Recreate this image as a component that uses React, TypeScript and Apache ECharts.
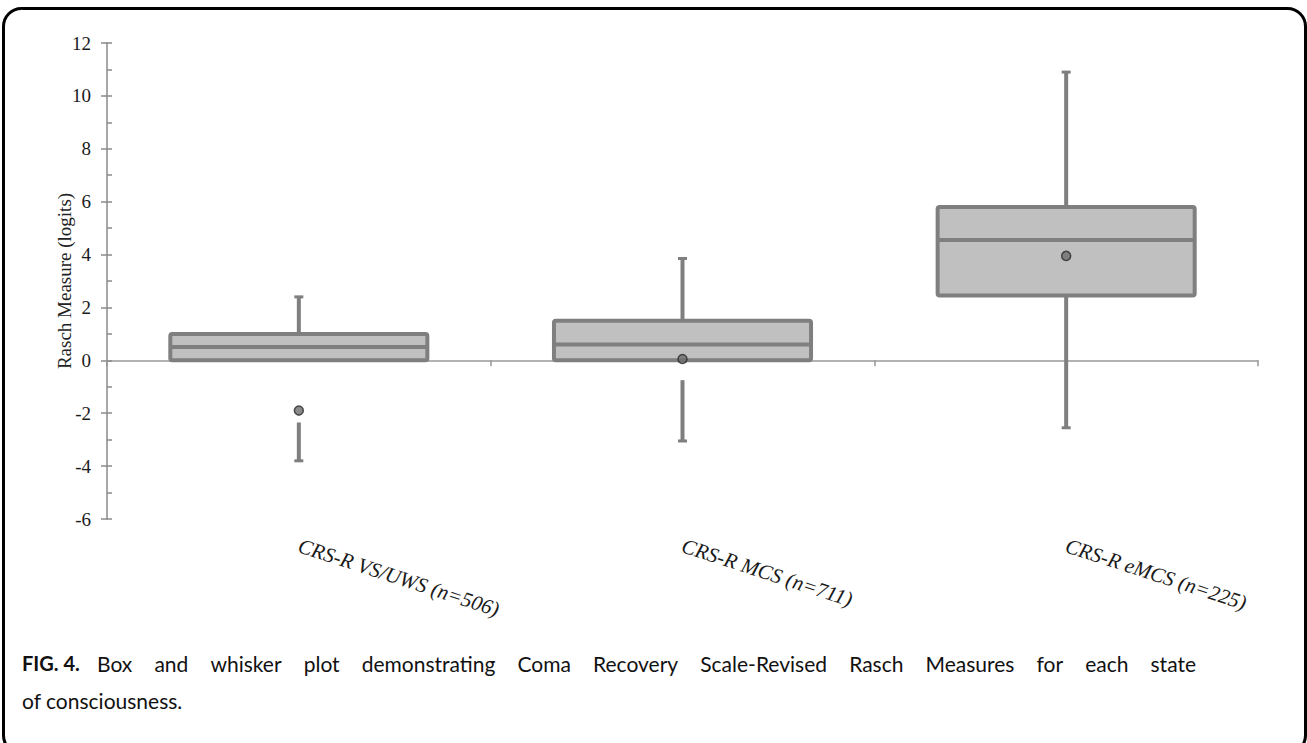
import React, { useEffect, useRef } from "react";
import * as echarts from "echarts";

const categories = ["CRS-R VS/UWS (n=506)", "CRS-R MCS (n=711)", "CRS-R eMCS (n=225)"];
const q1Values = [0, 0, 2.45];
const medianValues = [0.5, 0.6, 4.55];
const q3Values = [1.0, 1.5, 5.8];
const maxValues = [2.4, 3.85, 10.9];
const lowerWhiskerStart = [-2.35, -0.75, 2.45];
const minValues = [-3.8, -3.05, -2.55];
const meanValues = [-1.9, 0.05, 3.95];
const yTicks = { min: -6, max: 12, interval: 2 };

const captionLabel = "FIG. 4.";
const captionLine1 = "Box and whisker plot demonstrating Coma Recovery Scale-Revised Rasch Measures for each state";
const captionLine2 = "of consciousness.";

const GRID = { left: 107, right: 49, top: 43, bottom: 224 };
const GRID_W = 1307 - GRID.left - GRID.right;
const LINE_GRAY = "#7f7f7f";
const CAPTION_FAMILY = "Lato, 'Open Sans', sans-serif";
const CAPTION_FONT = "21px " + CAPTION_FAMILY;

function justifiedWords(text: string, x0: number, x1: number, y: number) {
  const words = text.split(" ");
  const widths = words.map((w) => {
    const t = new (echarts.graphic as any).Text({ style: { text: w, font: CAPTION_FONT } });
    return t.getBoundingRect().width;
  });
  const total = widths.reduce((a: number, b: number) => a + b, 0);
  const gap = (x1 - x0 - total) / Math.max(1, words.length - 1);
  let x = x0;
  return words.map((w, i) => {
    const el = {
      type: "text",
      x,
      y,
      style: { text: w, font: CAPTION_FONT, fill: "#111", textVerticalAlign: "middle" },
    };
    x += widths[i] + gap;
    return el;
  });
}

export default function App() {
  const ref = useRef<HTMLDivElement>(null);
  useEffect(() => {
    if (!ref.current) return;
    const chart = echarts.init(ref.current, undefined, { renderer: "svg" });
    const boxData = categories.map((_, i) => [
      i,
      q1Values[i],
      medianValues[i],
      q3Values[i],
      maxValues[i],
      lowerWhiskerStart[i],
      minValues[i],
    ]);
    const renderItem = (params: any, api: any) => {
      const idx = api.value(0);
      const cx = api.coord([idx, 0])[0];
      const y = (v: number) => api.coord([idx, v])[1];
      const bw = api.size([1, 0])[0] * 0.67;
      const q1 = api.value(1), med = api.value(2), q3 = api.value(3);
      const mx = api.value(4), ls = api.value(5), mn = api.value(6);
      const lineStyle = { stroke: LINE_GRAY, lineWidth: 4 };
      const capStyle = { stroke: LINE_GRAY, lineWidth: 3 };
      const capW = 9;
      return {
        type: "group",
        children: [
          { type: "line", shape: { x1: cx, y1: y(q3), x2: cx, y2: y(mx) }, style: lineStyle },
          { type: "line", shape: { x1: cx - capW / 2, y1: y(mx), x2: cx + capW / 2, y2: y(mx) }, style: capStyle },
          { type: "line", shape: { x1: cx, y1: y(ls), x2: cx, y2: y(mn) }, style: lineStyle },
          { type: "line", shape: { x1: cx - capW / 2, y1: y(mn), x2: cx + capW / 2, y2: y(mn) }, style: capStyle },
          {
            type: "rect",
            shape: { x: cx - bw / 2, y: y(q3), width: bw, height: y(q1) - y(q3), r: 2 },
            style: { fill: "#c0c0c0", stroke: LINE_GRAY, lineWidth: 4 },
          },
          { type: "line", shape: { x1: cx - bw / 2, y1: y(med), x2: cx + bw / 2, y2: y(med) }, style: lineStyle },
        ],
      };
    };
    const serif = "'Liberation Serif', 'Times New Roman', serif";
    const option: any = {
      animation: false,
      backgroundColor: "#ffffff",
      grid: { left: GRID.left, right: GRID.right, top: GRID.top, bottom: GRID.bottom, containLabel: false },
      xAxis: [
        {
          type: "category",
          data: categories,
          position: "bottom",
          axisLine: { show: false, onZero: false },
          axisTick: { show: false },
          axisLabel: {
            rotate: -18,
            margin: 26,
            fontFamily: serif,
            fontStyle: "italic",
            fontSize: 21,
            color: "#1a1a1a",
          },
        },
        {
          type: "category",
          data: categories,
          position: "top",
          axisLine: { show: true, onZero: true, lineStyle: { color: "#999999", width: 1.5 } },
          axisTick: { show: true, inside: true, length: 6, lineStyle: { color: "#999999", width: 1.5 } },
          axisLabel: { show: false },
        },
      ],
      yAxis: [
        {
          type: "value",
          min: yTicks.min,
          max: yTicks.max,
          interval: yTicks.interval,
          position: "left",
          name: "Rasch Measure (logits)",
          nameLocation: "middle",
          nameGap: 33,
          nameMoveOverlap: false,
          nameRotate: 90,
          nameTextStyle: { fontFamily: serif, fontSize: 19, color: "#222" },
          axisLine: { show: true, onZero: false, lineStyle: { color: "#8a8a8a", width: 1.5 } },
          axisTick: { show: true, length: 6, lineStyle: { color: "#8a8a8a", width: 1.5 } },
          axisLabel: { fontFamily: serif, fontSize: 19, color: "#1a1a1a", margin: 16 },
          splitLine: { show: false },
        },
        {
          type: "value",
          min: yTicks.min,
          max: yTicks.max,
          interval: yTicks.interval,
          position: "right",
          offset: -GRID_W,
          axisLine: { show: false },
          axisTick: { show: true, length: 5, lineStyle: { color: "#8a8a8a", width: 1.5 } },
          minorTick: { show: true, splitNumber: 2, length: 5, lineStyle: { color: "#8a8a8a", width: 1.5 } },
          axisLabel: { show: false },
          splitLine: { show: false },
        },
      ],
      series: [
        {
          type: "custom",
          xAxisIndex: 0,
          yAxisIndex: 0,
          renderItem,
          data: boxData,
          encode: { x: 0, y: [1, 2, 3, 4, 5, 6] },
          z: 2,
        },
        {
          type: "scatter",
          xAxisIndex: 0,
          yAxisIndex: 0,
          data: categories.map((_, i) => [i, meanValues[i]]),
          symbol: "circle",
          symbolSize: 9,
          itemStyle: { color: "#6e6e6e", borderColor: "#2a2a2a", borderWidth: 1.5 },
          z: 5,
        },
      ],
      graphic: [
        {
          type: "rect",
          shape: { x: 3.5, y: 8.5, width: 1302, height: 745, r: 18 },
          style: { fill: "none", stroke: "#000000", lineWidth: 3 },
          silent: true,
          z: 10,
        },
        {
          type: "text",
          x: 22,
          y: 663,
          style: {
            text: captionLabel,
            font: "bold 20px " + CAPTION_FAMILY,
            fill: "#111",
            textVerticalAlign: "middle",
          },
        },
        ...justifiedWords(captionLine1, 97, 1196, 663),
        {
          type: "text",
          x: 22,
          y: 700,
          style: {
            text: captionLine2,
            font: CAPTION_FONT,
            fill: "#111",
            textVerticalAlign: "middle",
          },
        },
      ],
    };
    chart.setOption(option);
    return () => chart.dispose();
  }, []);
  return (
    <div style={{ position: "fixed", left: 0, top: 0, width: 1307, height: 743, background: "#fff" }}>
      <div ref={ref} style={{ width: 1307, height: 743 }} />
    </div>
  );
}
